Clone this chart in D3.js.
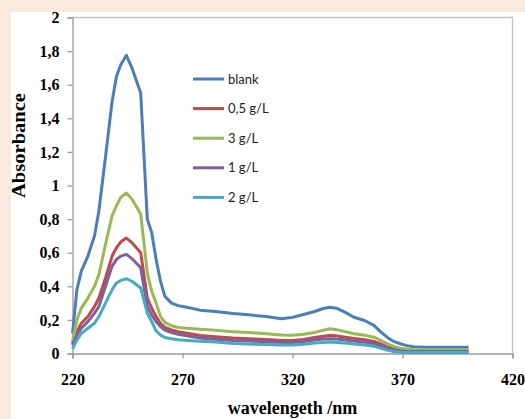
<!DOCTYPE html>
<html>
<head>
    <title>Absorbance spectra</title>
    <script src="https://cdnjs.cloudflare.com/ajax/libs/d3/7.8.5/d3.min.js"></script>
    <style>
        body { margin: 0; background: #f9eadd; }
        svg { display: block; }
        .tick text { font-family: "Liberation Serif", "Times New Roman", serif; font-weight: bold; font-size: 16px; fill: #000; }
        .legend text { font-family: Lato, "Open Sans", sans-serif; font-size: 13px; fill: #222; }
    </style>
</head>
<body>
    <svg width="525" height="419"></svg>

    <script>
        // wavelength points (nm) shared by all series
        const wavelengths = [220, 222, 224, 227, 230, 232, 235, 238, 240, 242, 244.5, 247, 251, 254, 256, 258, 260, 262, 265, 268,
            272, 278, 285, 293, 300, 308, 315, 320, 325, 330, 334, 337, 340, 344, 348, 353, 357, 360, 363, 366,
            369, 372, 375, 380, 390, 400];

        const blank = [0.12, 0.38, 0.49, 0.58, 0.70, 0.85, 1.17, 1.50, 1.65, 1.72, 1.775, 1.70, 1.55, 0.80, 0.72, 0.56, 0.43, 0.34, 0.30, 0.285,
            0.275, 0.258, 0.25, 0.238, 0.23, 0.22, 0.207, 0.215, 0.232, 0.25, 0.268, 0.275, 0.27, 0.245, 0.216, 0.195, 0.167, 0.13, 0.097, 0.072,
            0.058, 0.047, 0.04, 0.037, 0.037, 0.037];
        const g05 = [0.06, 0.13, 0.18, 0.22, 0.28, 0.33, 0.45, 0.58, 0.63, 0.665, 0.687, 0.66, 0.60, 0.33, 0.27, 0.22, 0.18, 0.155, 0.14, 0.13,
            0.12, 0.107, 0.10, 0.092, 0.088, 0.083, 0.078, 0.077, 0.083, 0.095, 0.103, 0.107, 0.105, 0.097, 0.09, 0.082, 0.072, 0.058, 0.04, 0.028,
            0.02, 0.017, 0.015, 0.015, 0.015, 0.015];
        const g3 = [0.07, 0.20, 0.27, 0.33, 0.40, 0.47, 0.65, 0.82, 0.88, 0.93, 0.955, 0.92, 0.83, 0.48, 0.37, 0.30, 0.22, 0.185, 0.165, 0.155,
            0.15, 0.145, 0.138, 0.13, 0.125, 0.118, 0.11, 0.108, 0.115, 0.125, 0.138, 0.147, 0.142, 0.13, 0.118, 0.108, 0.097, 0.08, 0.058, 0.042,
            0.032, 0.027, 0.024, 0.023, 0.023, 0.023];
        const g1 = [0.05, 0.11, 0.15, 0.19, 0.24, 0.28, 0.40, 0.52, 0.56, 0.58, 0.59, 0.565, 0.51, 0.28, 0.23, 0.19, 0.16, 0.14, 0.125, 0.115,
            0.105, 0.092, 0.085, 0.078, 0.075, 0.07, 0.066, 0.066, 0.072, 0.08, 0.086, 0.088, 0.086, 0.08, 0.074, 0.067, 0.058, 0.045, 0.03, 0.02,
            0.015, 0.012, 0.012, 0.012, 0.012, 0.012];
        const g2 = [0.028, 0.08, 0.12, 0.15, 0.18, 0.22, 0.30, 0.38, 0.42, 0.435, 0.445, 0.43, 0.39, 0.24, 0.19, 0.135, 0.11, 0.095, 0.088, 0.082,
            0.078, 0.073, 0.068, 0.06, 0.057, 0.053, 0.05, 0.05, 0.055, 0.062, 0.066, 0.068, 0.066, 0.062, 0.057, 0.05, 0.043, 0.033, 0.02, 0.012,
            0.008, 0.006, 0.006, 0.006, 0.006, 0.006];

        const seriesNames = ["blank", "0,5 g/L", "3 g/L", "1 g/L", "2 g/L"];
        const seriesValues = [blank, g05, g3, g1, g2];
        const colors = ["#4a7ebb", "#be4b48", "#98b954", "#7d60a0", "#46aac5"];

        const xTicks = [220, 270, 320, 370, 420];
        const yTicks = [0, 0.2, 0.4, 0.6, 0.8, 1, 1.2, 1.4, 1.6, 1.8, 2];

        const svg = d3.select("svg");

        svg.append("rect").attr("x", 11).attr("y", 12).attr("width", 514).attr("height", 407).attr("fill", "#fff");

        const x = d3.scaleLinear().domain([220, 420]).range([72.5, 512.5]);
        const y = d3.scaleLinear().domain([0, 2]).range([353.5, 17.5]);

        // plot area border (top + right)
        svg.append("path")
            .attr("d", `M${x(220)},${y(2)}H${x(420)}V${y(0)}`)
            .attr("fill", "none").attr("stroke", "#c4c4c4").attr("stroke-width", 1.3);

        const fmt = d => d3.format("")(+d.toFixed(1)).replace(".", ",");

        const yAxis = svg.append("g")
            .attr("transform", `translate(${x(220)},0)`)
            .call(d3.axisLeft(y).tickValues(yTicks).tickSize(5).tickPadding(8).tickFormat(fmt));

        const xAxis = svg.append("g")
            .attr("transform", `translate(0,${y(0)})`)
            .call(d3.axisBottom(x).tickValues(xTicks).tickSize(5).tickPadding(15).tickFormat(d3.format("d")));

        [xAxis, yAxis].forEach(g => {
            g.select(".domain").attr("stroke", "#9a9a9a").attr("stroke-width", 1.3);
            g.selectAll(".tick line").attr("stroke", "#9a9a9a").attr("stroke-width", 1.3);
        });

        const line = d3.line()
            .x((d, i) => x(wavelengths[i]))
            .y(d => y(d));

        seriesValues.forEach((vals, i) => {
            svg.append("path")
                .datum(vals)
                .attr("d", line)
                .attr("fill", "none")
                .attr("stroke", colors[i])
                .attr("stroke-width", 3)
                .attr("stroke-linejoin", "round");
        });

        // legend
        const legend = svg.append("g").attr("class", "legend");
        seriesNames.forEach((name, i) => {
            const ly = 79 + i * 29.6;
            legend.append("line")
                .attr("x1", 193).attr("x2", 224).attr("y1", ly).attr("y2", ly)
                .attr("stroke", colors[i]).attr("stroke-width", 3);
            legend.append("text")
                .attr("x", 228).attr("y", ly + 4.5)
                .text(name);
        });

        // axis titles
        svg.append("text")
            .attr("transform", "translate(25,145.5) rotate(-90)")
            .attr("text-anchor", "middle")
            .attr("font-family", "Liberation Serif, Times New Roman, serif")
            .attr("font-weight", "bold").attr("font-size", "18px")
            .attr("textLength", 105).attr("lengthAdjust", "spacingAndGlyphs")
            .text("Absorbance");

        svg.append("text")
            .attr("x", 292.5).attr("y", 414)
            .attr("text-anchor", "middle")
            .attr("font-family", "Liberation Serif, Times New Roman, serif")
            .attr("font-weight", "bold").attr("font-size", "18px")
            .text("wavelengeth /nm");
    </script>
</body>
</html>
